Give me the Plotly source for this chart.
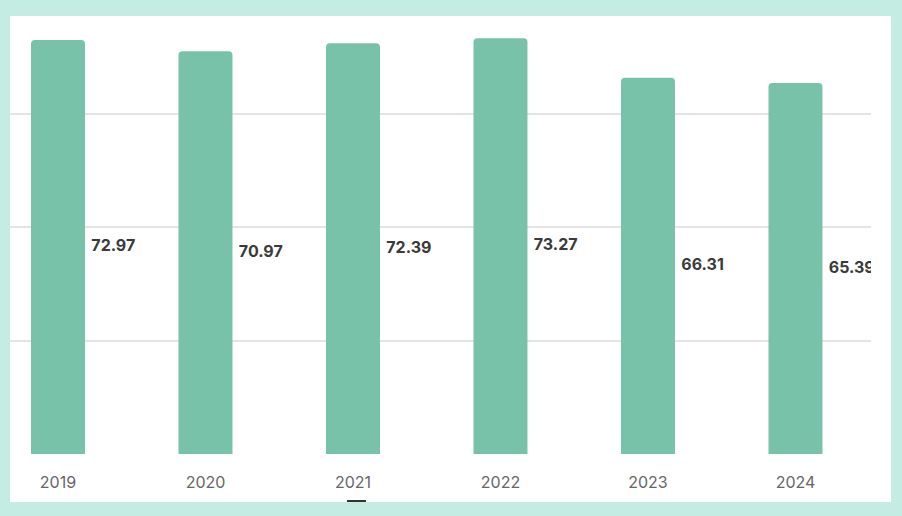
import plotly.graph_objects as go

years = ["2019", "2020", "2021", "2022", "2023", "2024"]
values = [72.97, 70.97, 72.39, 73.27, 66.31, 65.39]
labels = ["72.97", "70.97", "72.39", "73.27", "66.31", "65.39"]

BAR_W = 0.366
LABEL_GAP = 0.043
idx = list(range(len(years)))

fig = go.Figure()
fig.add_trace(go.Bar(
    x=idx, y=values, width=BAR_W,
    marker=dict(color="#77c2a8", line=dict(width=0)),
    hoverinfo="skip",
))
fig.add_trace(go.Scatter(
    x=[i + BAR_W / 2 + LABEL_GAP for i in idx], y=[v / 2 for v in values],
    mode="text", text=labels, textposition="middle right",
    textfont=dict(family="Inter, Roboto, sans-serif", size=16, color="#3a3a3a", weight="bold"),
    cliponaxis=True, hoverinfo="skip",
))

fig.update_layout(
    width=902, height=516,
    margin=dict(l=10, r=31, t=16, b=62),
    paper_bgcolor="#c5ece3",
    plot_bgcolor="rgba(0,0,0,0)",
    showlegend=False,
    barcornerradius=4,
    shapes=[
        dict(type="rect", xref="paper", yref="paper", x0=0, x1=881 / 861, y0=-48 / 438, y1=1,
             fillcolor="white", line=dict(width=0), layer="below"),
        dict(type="line", xref="paper", yref="paper", x0=(347 - 10) / 861, x1=(366 - 10) / 861,
             y0=-47 / 438, y1=-47 / 438, line=dict(color="#333333", width=2)),
    ],
    xaxis=dict(
        range=[-0.3254, 5.512], tickvals=idx, ticktext=years,
        showgrid=False, zeroline=False, showline=False, ticks="",
        tickfont=dict(family="Inter, Roboto, sans-serif", size=16, color="#666666"),
        ticklabelstandoff=17,
    ),
    yaxis=dict(
        range=[0, 77.2], tickvals=[0, 20, 40, 60], showticklabels=False,
        showgrid=True, gridcolor="#e4e4e4", gridwidth=2, zeroline=False, showline=False,
    ),
)

fig.write_html(
    "out.html",
    config={"displayModeBar": False},
    post_script="document.body.style.margin='0';document.body.style.padding='0';document.body.style.overflow='hidden';",
)
